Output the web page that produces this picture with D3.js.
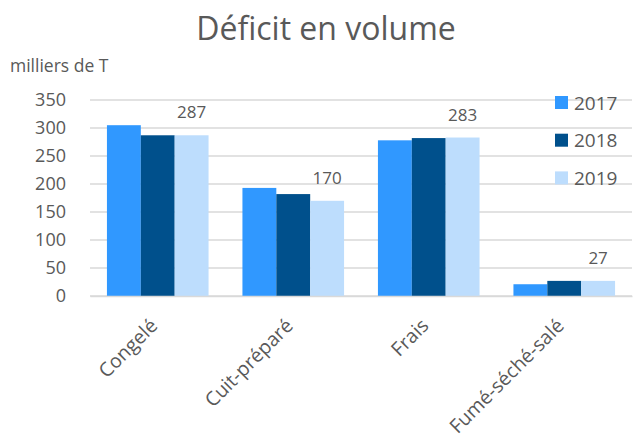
<!DOCTYPE html>
<html>
<head>
<meta charset="utf-8">
<script src="https://cdn.jsdelivr.net/npm/d3@7"></script>
<style>
  body { margin: 0; background: #fff; }
  text { font-family: "Open Sans", sans-serif; fill: #595959; }
</style>
</head>
<body>
<svg></svg>
<script>
let categories = ["Congelé", "Cuit-préparé", "Frais", "Fumé-séché-salé"];
let years = ["2017", "2018", "2019"];
let values2017 = [305, 193, 278, 21];
let values2018 = [287, 182, 282, 27];
let values2019 = [287, 170, 283, 27];
let yTicks = [0, 50, 100, 150, 200, 250, 300, 350];
let colors = ["#3098FF", "#00508C", "#BDDDFD"];

let series = [values2017, values2018, values2019];

let svg = d3.select("svg")
            .attr("width", 643)
            .attr("height", 440);

let x0 = d3.scaleBand()
           .domain(categories)
           .range([90, 632])
           .paddingInner(0.25)
           .paddingOuter(0.125);

let x1 = d3.scaleBand()
           .domain(years)
           .range([0, x0.bandwidth()]);

let y = d3.scaleLinear()
          .domain([0, 350])
          .range([296, 100]);

// gridlines
svg.append("g")
   .selectAll("line")
   .data(yTicks)
   .join("line")
   .attr("x1", 90)
   .attr("x2", 632)
   .attr("y1", d => y(d))
   .attr("y2", d => y(d))
   .attr("stroke", "#D9D9D9")
   .attr("stroke-width", 1.3);

// y labels
let yAxis = svg.append("g")
   .attr("transform", "translate(66,0)")
   .call(d3.axisLeft(y).tickValues(yTicks).tickSize(0).tickPadding(0));
yAxis.select(".domain").remove();
yAxis.selectAll("text")
     .attr("font-size", 18)
     .attr("font-family", "Open Sans")
     .attr("fill", "#595959");

// bars
let groups = svg.append("g")
   .selectAll("g")
   .data(categories)
   .join("g")
   .attr("transform", d => `translate(${x0(d)},0)`);

groups.selectAll("rect")
      .data((d, i) => years.map((yr, j) => ({yr: yr, v: series[j][i]})))
      .join("rect")
      .attr("x", d => x1(d.yr))
      .attr("width", x1.bandwidth())
      .attr("y", d => y(d.v))
      .attr("height", d => y(0) - y(d.v))
      .attr("fill", (d, j) => colors[j]);

// data labels (2019 only)
svg.append("g")
   .selectAll("text")
   .data(categories)
   .join("text")
   .attr("x", (d, i) => x0(d) + x1("2019") + x1.bandwidth() / 2)
   .attr("y", (d, i) => y(values2019[i]) - 17)
   .attr("text-anchor", "middle")
   .attr("font-size", 17)
   .text((d, i) => values2019[i]);

// x axis
let xAxis = svg.append("g")
   .attr("transform", "translate(0,296)")
   .call(d3.axisBottom(x0).tickSize(0).tickPadding(0));
xAxis.select(".domain").attr("stroke", "#D9D9D9").attr("stroke-width", 1.3);
xAxis.selectAll("text")
     .attr("font-size", 19.5)
     .attr("font-family", "Open Sans")
     .attr("fill", "#595959")
     .attr("text-anchor", "end")
     .attr("dy", 0)
     .attr("y", 0)
     .attr("transform", "translate(1,31) rotate(-45)");

// legend
let legend = svg.append("g")
   .selectAll("g")
   .data(years)
   .join("g")
   .attr("transform", (d, i) => `translate(555,${96 + i * 37.7})`);
legend.append("rect")
      .attr("width", 13)
      .attr("height", 13)
      .attr("fill", (d, i) => colors[i]);
legend.append("text")
      .attr("x", 19)
      .attr("y", 13.5)
      .attr("font-size", 19)
      .text(d => d);

// title
svg.append("text")
   .attr("x", 326)
   .attr("y", 40)
   .attr("text-anchor", "middle")
   .attr("font-size", 32)
   .text("Déficit en volume");

svg.append("text")
   .attr("x", 10)
   .attr("y", 72)
   .attr("font-size", 17.5)
   .text("milliers de T");
</script>
</body>
</html>
